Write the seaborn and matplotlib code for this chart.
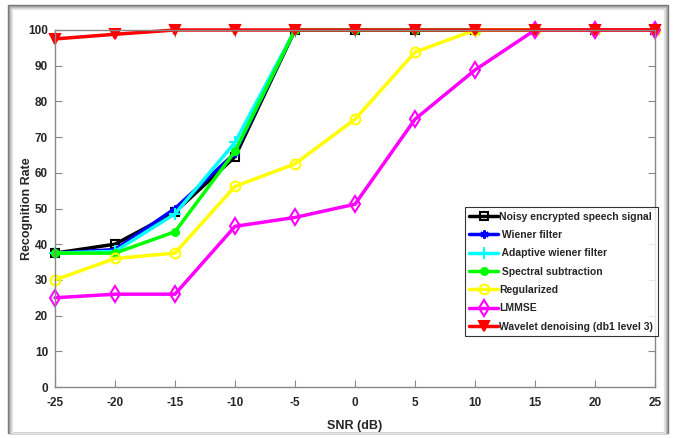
import numpy as np
import pandas as pd
import matplotlib
matplotlib.use("Agg")
import matplotlib.pyplot as plt
import seaborn as sns
from matplotlib.patches import Rectangle

# Data
snr = [-25, -20, -15, -10, -5, 0, 5, 10, 15, 20, 25]
noisy = [37.5, 40, 49, 64.5, 100, 100, 100, 100, 100, 100, 100]
wiener = [37.5, 38.5, 50, 65.5, 100, 100, 100, 100, 100, 100, 100]
adaptive = [37.5, 38, 48.5, 68.5, 100, 100, 100, 100, 100, 100, 100]
spectral = [37.5, 37.5, 43.5, 66, 100, 100, 100, 100, 100, 100, 100]
regularized = [30, 36, 37.5, 56.2, 62.5, 75, 93.8, 100, 100, 100, 100]
lmmse = [25, 26, 26, 45, 47.5, 51.2, 75, 88.8, 100, 100, 100]
wavelet = [97.5, 98.8, 100, 100, 100, 100, 100, 100, 100, 100, 100]

labels = ["Noisy encrypted speech signal", " Wiener filter", " Adaptive wiener filter",
          " Spectral subtraction", "Regularized", "LMMSE", "Wavelet denoising (db1 level 3)"]
colors = ["black", "#0000FF", "#00FFFF", "#00FF00", "#FFFF00", "#FF00FF", "#FF0000"]
markers = ["s", (6, 2, 0), "+", "o", "o", "d", "v"]
face = ["none", None, None, "#00FF00", "none", "none", "#FF0000"]
sizes = [5.5, 6, 8, 5, 7, 8, 7.5]
series = [noisy, wiener, adaptive, spectral, regularized, lmmse, wavelet]

sns.set_style("white")
plt.rcParams["font.family"] = ["Liberation Sans", "DejaVu Sans"]
plt.rcParams["font.weight"] = "bold"
plt.rcParams["axes.unicode_minus"] = False

fig = plt.figure(figsize=(6.75, 4.38), dpi=100)
ax = fig.add_axes([55 / 675, 1 - 387 / 438, 600 / 675, 357 / 438])

# shadowed frame around the figure
W, H = 675, 438
for i, g in enumerate([0.45, 0.6, 0.72, 0.82, 0.9]):
    fig.add_artist(Rectangle(((8 + i) / W, (5) / H), (660 - 2 * i) / W, (428 - i) / H,
                             transform=fig.transFigure, fill=False,
                             edgecolor=str(g), lw=1.0))

for vals, lab, c, m, fc, ms in zip(series, labels, colors, markers, face, sizes):
    kw = dict(markeredgewidth=1.5)
    if fc is not None:
        kw["markerfacecolor"] = fc
    sns.lineplot(x=snr, y=vals, ax=ax, color=c, marker=m, markersize=ms,
                 markeredgecolor=c, linewidth=2.5, label=lab, clip_on=False, **kw)

ax.set_xlim(-25, 25)
ax.set_ylim(0, 100)
ax.set_xticks(snr)
ax.set_yticks(np.arange(0, 101, 10))
ax.tick_params(direction="in", length=5, color="#888888", labelsize=8.5,
               top=True, right=True, bottom=True, left=True, pad=5)
ax.tick_params(axis="x", pad=7)
for lbl in ax.get_xticklabels() + ax.get_yticklabels():
    lbl.set_fontweight("bold")
for sp in ax.spines.values():
    sp.set_color("#888888")
    sp.set_linewidth(1.0)

ax.set_xlabel("SNR (dB)", fontsize=9, fontweight="bold", labelpad=8)
ax.set_ylabel("Recognition Rate", fontsize=9, fontweight="bold")
ax.yaxis.set_label_coords(-0.037, 0.5)

leg = ax.legend(loc="upper right", bbox_to_anchor=(1.005, (387 - 207) / 357),
                fontsize=7.5, frameon=True, fancybox=False, handlelength=2.8,
                handletextpad=0.1, borderpad=0.45, labelspacing=0.8, borderaxespad=0)
leg.get_frame().set_edgecolor("black")
leg.get_frame().set_linewidth(0.8)
for t in leg.get_texts():
    t.set_fontweight("bold")

fig.savefig("out.png", dpi=100)
